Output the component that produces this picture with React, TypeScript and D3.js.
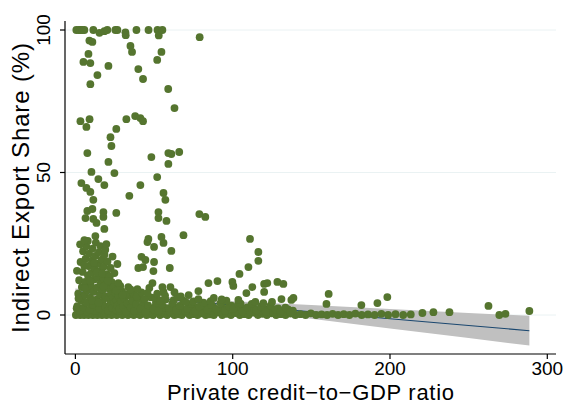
import React, { useEffect, useRef } from 'react'
import * as d3 from 'd3'

// points: [credit-to-GDP, indirect export share]
const topRow: [number, number][] = [
  [0.6, 100], [2.2, 100], [3.2, 100], [4.4, 100], [5.7, 100], [11.4, 100], [15.3, 99], [18.4, 99.6],
  [20.3, 100], [25.4, 100], [26.7, 100], [31.8, 99.2], [32, 98.2], [38.8, 100], [46.5, 100], [52.2, 100],
  [53, 98.1], [55.3, 100], [79, 97.5]
]

const highPoints: [number, number][] = [
  [8.9, 96.3], [10.8, 95.8], [35, 94.4], [36, 92.3], [54.7, 92.3], [8.3, 91.6], [5.1, 88.8], [9.5, 88.4],
  [52, 89.5], [21, 87.4], [40, 86.3], [14, 84.2], [43, 82.8], [9.5, 81], [59, 79.3], [63, 72.6],
  [3.2, 68], [9, 68.7], [32.4, 68.7], [38, 69.8], [41.3, 69.1], [43, 68], [7, 66], [26, 65.3],
  [22.3, 62.4], [22.9, 59.3], [7.6, 56.8], [21, 53.7], [48.3, 55.4], [59.1, 56.8], [61, 56.5], [66, 57.2],
  [59.1, 53], [10.2, 50.2], [24.8, 49.8], [52, 48.4], [3.8, 46.3], [7, 44.6], [9.5, 43.2], [14.6, 47.7],
  [18.4, 45.6], [41.3, 45.6], [34.3, 41.8], [56, 42.8], [57.2, 40.4], [11.4, 40.4], [7.6, 36.5], [10.8, 37.2],
  [17.8, 36.1], [6.4, 34], [11.4, 33.7], [13.4, 32.3], [17.8, 34.4], [26, 35.8], [52.8, 36.1], [52.8, 34],
  [57.9, 33], [78.8, 35.4], [82.6, 34.4], [18.4, 30.2], [12.7, 27.7], [5.7, 26.3], [46.4, 26.7], [54.7, 27.4],
  [68.7, 28], [111, 26.7]
]

const midPoints: [number, number][] = [
  [19.7, 24.9], [45.8, 25.6], [50, 23.9], [56, 25.3], [61, 22.5], [42, 20.4], [44.5, 19.3], [50, 18.6],
  [40, 16.5], [60, 16.5], [49.6, 15.4], [43, 16.8], [26.7, 17.9], [24.8, 14.7], [27.3, 11.2], [49, 11.2],
  [55.3, 9.8], [60.4, 9.8], [39.4, 9.1], [45.8, 7.7], [116.3, 22.1], [116.3, 19], [110, 16.8], [104.3, 14.4],
  [90.3, 11.9], [84.6, 11.2], [99.8, 11.6], [100.4, 10.2], [120, 10.9], [122, 11.2], [128.4, 11.6], [132.2, 10.9],
  [112.5, 9.8], [120, 8.1], [108.7, 7.7], [78.2, 8.4], [131, 5.6], [137.3, 5.3], [138.6, 6], [64.8, 6.3],
  [78.2, 5.6], [103.6, 5.3], [114.4, 4.6], [119.5, 4.2], [161, 7.4], [159.6, 3.9], [181.8, 3.5], [192, 4.2],
  [198.3, 6.3], [262.6, 3.2], [269.5, 0], [273.4, 0.4], [288.6, 1.4], [220.6, 0.7], [227.6, 1], [237.8, 1],
  [30, 7], [35, 9], [52, 7.5], [57, 6.8], [63, 8], [67, 6.5], [72, 7], [88, 6], [93, 5.5]
]

const lowCluster: [number, number][] = [
  [1.2, 3.1], [1.8, 7.5], [2.4, 12.2], [2.9, 1.4], [3.3, 18.6], [3.7, 5.2], [4.1, 9.8], [4.6, 15.1],
  [4.9, 22.4], [5.3, 2.7], [5.8, 6.9], [6.2, 11.6], [6.5, 19.8], [6.9, 24.1], [7.3, 4.3], [7.6, 8.7],
  [8.0, 13.9], [8.3, 17.2], [8.7, 21.5], [9.1, 1.8], [9.4, 6.1], [9.8, 10.4], [10.1, 14.8], [10.5, 19.1],
  [10.9, 23.3], [11.2, 3.6], [11.6, 8.2], [12.0, 12.5], [12.3, 16.4], [12.7, 20.7], [13.0, 25.4], [13.4, 5.4],
  [13.8, 9.6], [14.1, 13.2], [14.5, 18.0], [14.9, 22.0], [15.2, 2.2], [15.6, 7.1], [16.0, 11.0], [16.3, 15.6],
  [16.7, 19.4], [17.1, 4.7], [17.4, 8.9], [17.8, 12.8], [18.2, 17.0], [18.5, 21.2], [18.9, 3.0], [19.3, 6.5],
  [19.6, 10.7], [20.0, 14.3], [20.4, 18.8], [20.8, 1.6], [21.1, 5.8], [21.5, 9.2], [21.9, 13.6], [22.3, 3.9],
  [22.7, 7.4], [23.1, 11.5], [23.5, 2.5], [23.9, 6.0], [24.3, 9.9], [24.8, 4.4], [25.2, 7.8], [25.7, 1.9],
  [26.2, 5.1], [26.8, 3.3], [27.5, 6.6], [28.1, 2.1], [28.9, 4.9], [29.6, 8.3], [30.4, 3.0], [31.2, 5.7],
  [32.1, 1.2], [33.0, 4.1], [34.0, 6.8], [35.1, 2.6], [36.2, 5.0], [37.4, 1.5], [38.6, 3.8], [40.1, 5.9],
  [41.5, 2.3], [43.0, 4.5], [44.6, 1.0], [46.2, 3.4], [47.9, 6.2], [49.5, 2.0], [51.2, 4.3], [53.0, 1.4],
  [55.1, 3.6], [57.3, 5.4], [59.4, 2.4], [61.6, 4.0], [63.9, 1.7], [66.2, 3.2], [68.6, 5.0], [71.0, 2.2],
  [73.5, 3.9], [76.1, 1.3], [78.8, 2.9], [81.4, 4.3], [84.0, 1.8], [86.7, 3.5], [89.5, 2.0], [92.2, 4.1],
  [95.0, 1.5], [97.8, 3.0], [100.6, 2.3], [103.5, 3.8], [106.3, 1.2], [109.2, 2.7], [112.1, 3.9], [115.0, 1.6],
  [118.0, 2.9], [121.0, 1.1], [124.1, 3.3], [127.2, 2.0], [130.4, 1.3], [133.5, 2.6], [136.8, 1.0],
  [2.0, 5.8], [6.0, 9.4], [10.6, 5.0], [14.8, 4.3], [18.0, 10.0], [26.0, 8.6], [28.5, 10.2], [31.8, 7.3],
  [33.6, 9.8], [36.8, 7.6], [39.0, 6.5], [42.0, 7.9], [44.0, 5.6], [47.0, 9.5], [50.5, 6.0], [54.0, 5.0],
  [56.0, 8.1], [62.5, 5.2], [70.0, 4.6], [75.0, 4.8], [86.0, 4.9], [96.0, 5.0], [105.0, 4.0], [125.0, 4.6],
  [1.0, 15.5], [3.0, 24.8], [5.6, 17.4], [7.9, 26.0], [9.2, 12.0], [11.9, 18.3], [13.6, 15.0], [15.9, 24.2],
  [17.0, 14.6], [19.0, 22.9], [20.6, 12.0], [22.4, 16.5], [23.6, 20.5]
]

const bandPoints: [number, number][] = [
  [0.3, 0], [1.5, 0.4], [3.0, 0], [4.2, 0.8], [5.5, 0], [6.8, 0.3], [8.2, 0], [9.6, 0.6], [11.0, 0], [12.5, 0.2],
  [14.0, 0], [15.4, 0.9], [16.9, 0], [18.3, 0.4], [19.8, 0], [21.4, 0.7], [23.0, 0], [24.6, 0.3], [26.3, 0], [28.0, 1.0],
  [29.8, 0], [31.5, 0.4], [33.4, 0], [35.2, 0.8], [37.1, 0], [39.0, 0.3], [41.0, 0], [43.1, 0.6], [45.2, 0], [47.3, 0.2],
  [49.4, 0], [51.6, 0.9], [53.8, 0], [56.0, 0.4], [58.3, 0], [60.6, 0.7], [62.9, 0], [65.3, 0.2], [67.7, 0], [70.1, 0.8],
  [72.6, 0], [75.1, 0.3], [77.6, 0], [80.2, 0.6], [82.8, 0], [85.4, 0.2], [88.0, 0], [90.7, 0.9], [93.4, 0], [96.1, 0.4],
  [98.9, 0], [101.7, 0.7], [104.5, 0], [107.3, 0.3], [110.1, 0], [113.0, 0.8], [115.9, 0], [118.8, 0.4], [121.7, 0], [124.6, 0.6],
  [127.6, 0], [130.6, 0.3], [133.6, 0], [136.7, 0.5], [139.8, 0], [143.0, 0.3], [146.3, 0], [149.7, 0.6], [153.0, 0], [156.5, 0.2],
  [160.0, 0], [163.5, 0.4], [167.0, 0], [170.6, 0.3], [174.2, 0], [178.0, 0.5], [182.0, 0], [186.0, 0.2], [190.2, 0], [194.5, 0.4],
  [198.8, 0], [203.5, 0.3], [208.4, 0], [213.2, 0.2],
  [0.8, 2.4], [2.6, 1.6], [4.8, 2.1], [7.1, 1.3], [9.9, 2.6], [12.2, 1.5], [14.6, 3.1], [17.5, 1.7], [20.1, 2.9], [22.8, 1.2],
  [25.0, 2.6], [27.7, 1.6], [30.1, 2.8], [32.8, 1.9], [35.6, 3.2], [38.1, 2.0], [40.7, 1.4], [42.4, 2.9], [45.0, 2.0], [47.6, 1.3],
  [50.3, 2.7], [52.5, 2.2], [54.6, 1.1], [57.0, 2.5], [60.0, 1.3], [62.4, 2.9], [65.0, 1.5], [67.4, 2.4], [69.8, 1.4], [72.3, 2.9],
  [74.8, 1.6], [77.4, 2.6], [80.0, 1.2], [82.6, 3.0], [85.3, 1.5], [87.9, 2.6], [90.6, 1.3], [93.6, 2.6], [96.4, 1.7], [99.2, 3.3],
  [102.2, 1.3], [105.0, 2.6], [108.0, 1.9], [110.8, 1.1], [113.6, 2.3], [116.7, 1.3], [119.6, 2.5], [122.5, 1.6], [125.7, 1.0],
  [128.9, 2.3], [132.0, 1.1], [135.2, 2.0], [138.3, 1.5]
]

// linear fit with 95% CI
const fitX = [0, 25, 50, 100, 150, 200, 250, 288.6]
const fitY = [8.2, 7.0, 5.8, 3.45, 1.1, -1.3, -3.7, -5.5]
const fitLo = [7.1, 6.15, 5.0, 2.05, -1.3, -4.7, -8.1, -10.7]
const fitHi = [9.3, 7.85, 6.6, 4.85, 3.5, 2.1, 0.7, -0.3]

const xTicks = [0, 100, 200, 300]
const yTicks = [0, 50, 100]

const FONT = '"Liberation Sans", Arial, sans-serif'

export default function App() {
  const ref = useRef<SVGSVGElement>(null)

  useEffect(() => {
    const svg = d3.select(ref.current)
    svg.selectAll('*').remove()

    const left = 65, right = 556, top = 21, bottom = 354
    const x = d3.scaleLinear().domain([0, 300]).range([75.4, 547.3])
    const y = d3.scaleLinear().domain([0, 100]).range([315, 30])

    svg.append('rect').attr('width', 567).attr('height', 405).attr('fill', '#fff')

    // grid
    svg.append('g').selectAll('line')
      .data(yTicks).enter().append('line')
      .attr('x1', left).attr('x2', right)
      .attr('y1', d => y(d)).attr('y2', d => y(d))
      .attr('stroke', '#eaf2f3').attr('stroke-width', 1)

    // CI band + fit
    const band = fitX.map((v, i) => ({ x: v, lo: fitLo[i], hi: fitHi[i], fit: fitY[i] }))
    svg.append('path')
      .datum(band)
      .attr('d', d3.area<any>().x(d => x(d.x)).y0(d => y(d.lo)).y1(d => y(d.hi)))
      .attr('fill', '#c0c0c0')

    svg.append('path')
      .datum(band)
      .attr('d', d3.line<any>().x(d => x(d.x)).y(d => y(d.fit)))
      .attr('fill', 'none')
      .attr('stroke', '#1a476f')
      .attr('stroke-width', 1.1)

    // scatter
    const pts = [...bandPoints, ...lowCluster, ...midPoints, ...highPoints, ...topRow]
    svg.append('g').selectAll('circle')
      .data(pts).enter().append('circle')
      .attr('cx', d => x(d[0]))
      .attr('cy', d => y(d[1]))
      .attr('r', 3.9)
      .attr('fill', '#55752f')

    // axes
    const axes = svg.append('g').attr('stroke', '#000').attr('stroke-width', 1.2)
    axes.append('line').attr('x1', left).attr('x2', right).attr('y1', bottom).attr('y2', bottom)
    axes.append('line').attr('x1', left).attr('x2', left).attr('y1', top).attr('y2', bottom)
    axes.selectAll('.xt').data(xTicks).enter().append('line')
      .attr('x1', d => x(d)).attr('x2', d => x(d)).attr('y1', bottom).attr('y2', bottom + 5)
    axes.selectAll('.yt').data(yTicks).enter().append('line')
      .attr('x1', left - 5).attr('x2', left).attr('y1', d => y(d)).attr('y2', d => y(d))

    const txt = svg.append('g').attr('font-family', FONT).attr('fill', '#000')
    txt.selectAll('.xl').data(xTicks).enter().append('text')
      .attr('x', d => x(d)).attr('y', 375)
      .attr('text-anchor', 'middle').attr('font-size', 19)
      .text(d => d)
    txt.selectAll('.yl').data(yTicks).enter().append('text')
      .attr('transform', d => `translate(50,${y(d)}) rotate(-90)`)
      .attr('text-anchor', 'middle').attr('font-size', 19)
      .text(d => d)

    txt.append('text')
      .attr('x', (left + right) / 2).attr('y', 400)
      .attr('text-anchor', 'middle').attr('font-size', 22)
      .attr('textLength', 287).attr('lengthAdjust', 'spacing')
      .text('Private credit\u2212to\u2212GDP ratio')
    txt.append('text')
      .attr('transform', `translate(29,188) rotate(-90)`)
      .attr('text-anchor', 'middle').attr('font-size', 24)
      .attr('textLength', 290).attr('lengthAdjust', 'spacing')
      .text('Indirect Export Share (%)')
  }, [])

  return (
    <svg ref={ref} width={567} height={405}
      style={{ position: 'absolute', left: 0, top: 0, display: 'block' }} />
  )
}
